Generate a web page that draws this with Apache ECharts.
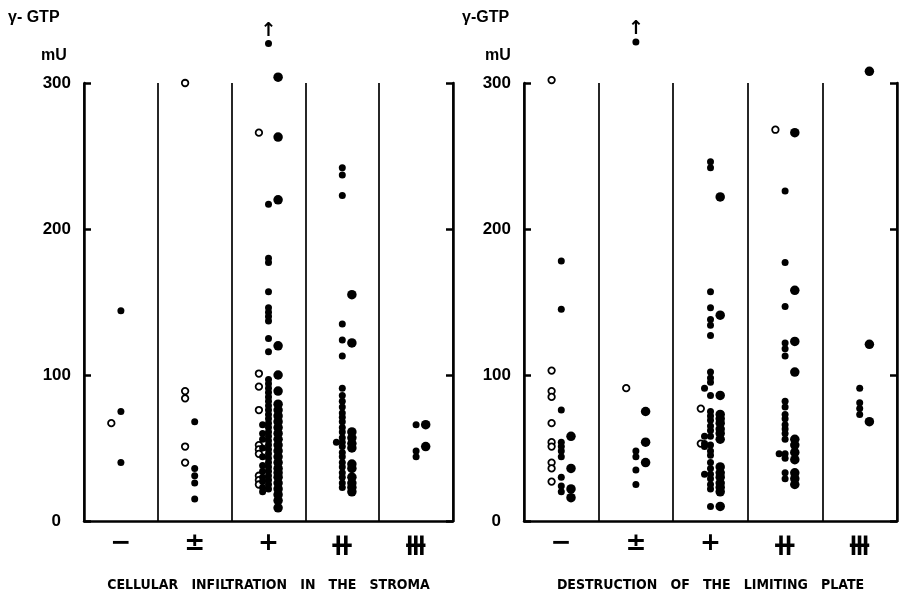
<!DOCTYPE html>
<html><head><meta charset="utf-8">
<script src="https://cdn.jsdelivr.net/npm/echarts@6/dist/echarts.min.js"></script>
<style>html,body{margin:0;padding:0;background:#fff}#c{width:899px;height:602px}</style>
</head><body><div id="c"></div>
<script>
// ---- categories & ticks ----
const categories = ['−', '±', '+', '⧺', '⧻'];
const yTicks = [0, 100, 200, 300];
const yMax = 300;
const panelTitles = ['CELLULAR   INFILTRATION   IN   THE   STROMA', 'DESTRUCTION   OF   THE   LIMITING   PLATE'];
const yTitle = ['γ- GTP', 'γ-GTP'];
const yUnit = 'mU';

// ---- left panel: cellular infiltration in the stroma (values per category) ----
const stromaOpen = [
  [67],
  [300, 89, 84, 51, 40],
  [266, 101, 92, 76, 52, 49, 46, 31, 28, 25],
  [],
  []
];
const stromaSmall = [
  [144, 75, 40],
  [68, 36, 31, 26, 15],
  [327, 217, 180, 177, 157, 146, 143, 140, 137, 125, 116, 97, 94, 91, 88, 85, 82, 79, 76, 73, 70, 67, 64, 61, 58, 55, 52, 49, 46, 43, 40, 37, 34, 31, 28, 25, 22],
  [242, 237, 223, 135, 124, 113, 91, 86, 82, 78, 74, 71, 68, 64, 61, 57, 54, 51, 47, 44, 40, 37, 33, 30, 26, 23],
  [66, 48, 44]
];
const stromaSmallLeft = [
  [],
  [],
  [66, 60, 56, 50, 44, 38, 34, 30, 27, 23, 20],
  [54],
  []
];
const stromaLarge = [
  [],
  [],
  [304, 263, 220, 120, 100, 89, 80, 76, 72, 68, 64, 60, 56, 52, 48, 44, 40, 36, 33, 30, 26, 22, 18, 14, 9],
  [155, 122, 61, 57, 53, 50, 39, 36, 30, 26, 23, 20],
  [66, 51]
];

// ---- right panel: destruction of the limiting plate ----
const plateOpen = [
  [302, 103, 89, 85, 67, 54, 51, 40, 36, 27],
  [91],
  [77, 53],
  [268],
  []
];
const plateSmall = [
  [178, 145, 76, 54, 51, 48, 44, 30, 24, 20],
  [328, 48, 44, 35, 25],
  [246, 242, 157, 146, 138, 134, 127, 102, 98, 95, 86, 75, 72, 69, 65, 62, 58, 52, 48, 45, 40, 36, 32, 29, 25, 22, 10],
  [226, 177, 147, 122, 118, 113, 82, 78, 73, 70, 66, 63, 60, 56, 46, 43, 33, 29],
  [91, 81, 77, 73]
];
const plateSmallLeft = [
  [],
  [],
  [91, 58, 53, 51, 32],
  [46],
  []
];
const plateLarge = [
  [58, 36, 22, 16],
  [75, 54, 40],
  [222, 141, 86, 73, 70, 67, 63, 60, 56, 37, 33, 30, 26, 23, 20, 10],
  [266, 158, 123, 102, 56, 52, 47, 42, 33, 29, 25],
  [308, 121, 68]
];

// ---- build chart ----
const panels = [
  { open: stromaOpen, small: stromaSmall, smallLeft: stromaSmallLeft, large: stromaLarge },
  { open: plateOpen, small: plateSmall, smallLeft: plateSmallLeft, large: plateLarge }
];
const kinds = {
  open:      { dx: -0.13, size: 6.5, style: { color: '#fff', borderColor: '#000', borderWidth: 1.8, opacity: 1 } },
  smallLeft: { dx: -0.08, size: 7,   style: { color: '#000', opacity: 1 } },
  small:     { dx: 0.0,   size: 7,   style: { color: '#000', opacity: 1 } },
  large:     { dx: 0.13,  size: 9.5, style: { color: '#000', opacity: 1 } }
};
const font = 'Liberation Sans, Arial, sans-serif';
const grids = [
  { left: 84, top: 83, width: 369, height: 438 },
  { left: 524, top: 83, width: 373, height: 438 }
];
const catRich = {
  n: { fontSize: 25, fontWeight: 'bold', fontFamily: 'DejaVu Sans', color: '#000' },
  b: { fontSize: 31, fontWeight: 'bold', fontFamily: 'DejaVu Sans', color: '#000' }
};
const xAxes = [], yAxes = [], series = [], graphics = [];
grids.forEach((g, p) => {
  xAxes.push({
    gridIndex: p, type: 'value', min: 0, max: categories.length, interval: 1,
    axisLine: { show: true, lineStyle: { color: '#000', width: 2.5 } },
    axisTick: { show: false }, axisLabel: { show: false },
    splitLine: { show: true, lineStyle: { color: '#000', width: 1.7 } }
  });
  xAxes.push({
    gridIndex: p, type: 'category', data: categories, position: 'bottom',
    axisLine: { show: false }, axisTick: { show: false },
    axisLabel: { show: true, color: '#000', margin: 10,
      formatter: (v, i) => (i >= 3 ? '{b|' + v + '}' : '{n|' + v + '}'), rich: catRich },
    name: panelTitles[p], nameLocation: 'middle', nameGap: 57,
    nameTextStyle: { color: '#000', fontSize: 14, fontWeight: 'bold', fontFamily: 'DejaVu Sans Condensed, DejaVu Sans' }
  });
  const common = {
    gridIndex: p, type: 'value', min: 0, max: yMax, interval: 100,
    axisLine: { show: true, lineStyle: { color: '#000', width: 2.5 } },
    axisTick: { show: true, inside: true, length: 7, lineStyle: { color: '#000', width: 2.5 } },
    splitLine: { show: false }
  };
  yAxes.push(Object.assign({}, common, {
    position: 'left',
    axisLabel: {
      show: true, color: '#000', fontSize: 17, fontWeight: 'bold', fontFamily: font, margin: 13,
      formatter: v => yTicks.indexOf(v) >= 0 ? (v === 0 ? '{z|0}' : String(v)) : '',
      rich: { z: { fontSize: 17, fontWeight: 'bold', fontFamily: font, color: '#000', padding: [0, 10, 0, 0] } }
    }
  }));
  yAxes.push(Object.assign({}, common, { position: 'right', axisLabel: { show: false } }));

  const data = panels[p];
  Object.keys(kinds).forEach(k => {
    const kd = kinds[k];
    const pts = [];
    data[k].forEach((vals, ci) => {
      vals.forEach(v => {
        const item = { value: [ci + 0.5 + kd.dx, v] };
        if (v > yMax + 15) {
          item.label = { show: true, formatter: '↑', position: 'top', distance: 0,
            color: '#000', fontSize: 19, fontWeight: 'bold', fontFamily: 'DejaVu Sans' };
        }
        pts.push(item);
      });
    });
    series.push({
      type: 'scatter', xAxisIndex: p * 2, yAxisIndex: p * 2, clip: false,
      symbol: 'circle', symbolSize: kd.size, itemStyle: kd.style, data: pts,
      silent: true, animation: false, z: k === 'open' ? 3 : 4
    });
  });

  graphics.push({ type: 'text', left: p === 0 ? 8 : 462, top: 10,
    style: { text: yTitle[p], fill: '#000', font: 'bold 16px ' + font } });
  graphics.push({ type: 'text', left: p === 0 ? 41 : 485, top: 48,
    style: { text: yUnit, fill: '#000', font: 'bold 16px ' + font } });
});

const chart = echarts.init(document.getElementById('c'), null, { renderer: 'canvas' });
chart.setOption({
  backgroundColor: '#fff',
  animation: false,
  grid: grids,
  xAxis: xAxes,
  yAxis: yAxes,
  series: series,
  graphic: graphics
});
</script>
</body></html>
